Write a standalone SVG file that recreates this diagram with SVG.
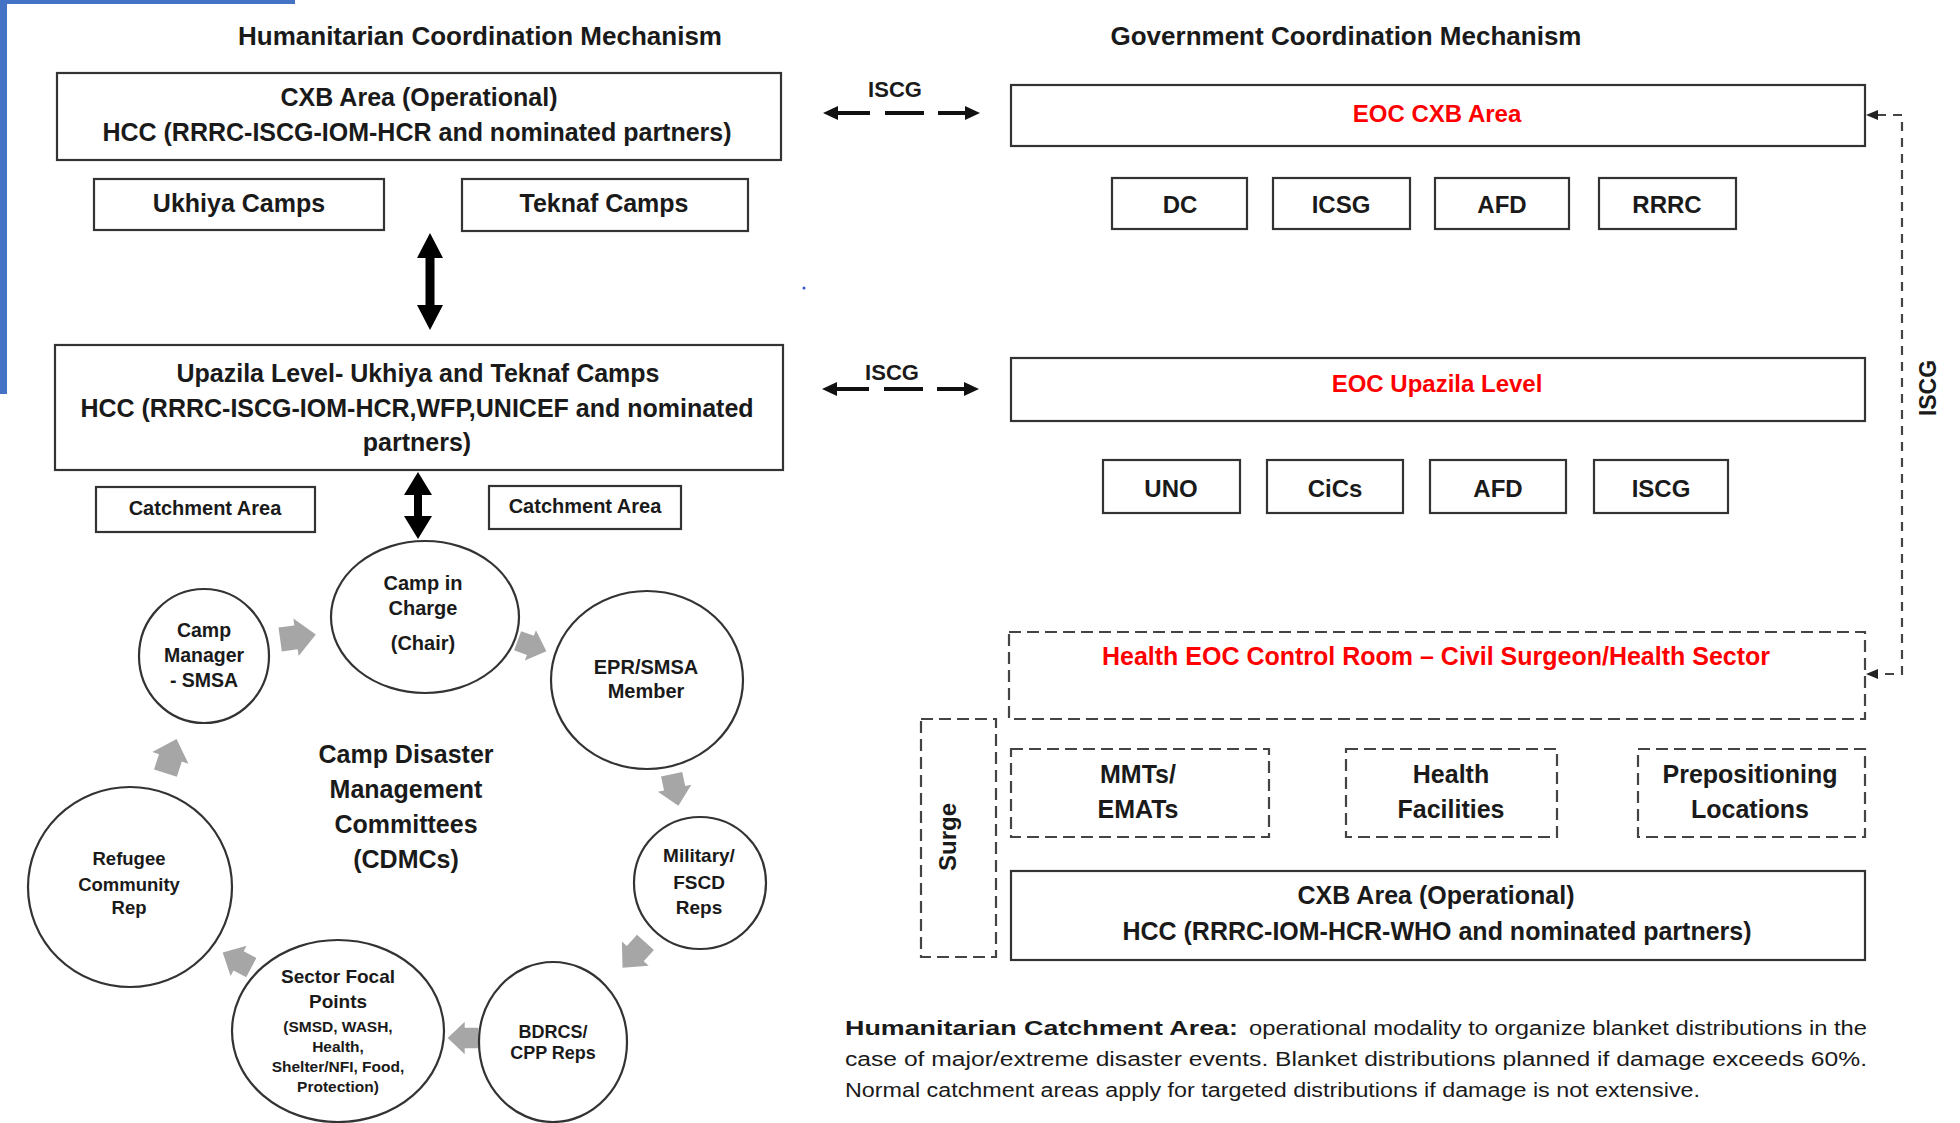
<svg xmlns="http://www.w3.org/2000/svg" xmlns:xlink="http://www.w3.org/1999/xlink" width="1960" height="1123" viewBox="0 0 1960 1123">
<style>
.t{font-family:"Liberation Sans",Arial,sans-serif;font-weight:bold;fill:#1a1a1a;text-anchor:middle}
.red{fill:#ff0000}
.box{fill:#fff;stroke:#333;stroke-width:2.2}
.dbox{fill:none;stroke:#444;stroke-width:2.2;stroke-dasharray:12 6}
.circ{fill:#fff;stroke:#333;stroke-width:2.2}
.ga{fill:#a6a6a6}
.fn{font-family:"Liberation Sans",Arial,sans-serif;fill:#1a1a1a;font-size:20px}
.dash4{stroke:#111;stroke-width:4;fill:none}
.conn{stroke:#444;stroke-width:2.2;fill:none;stroke-dasharray:9 7}
</style>
<defs>
<polygon id="garr" points="-18,-12 -2,-12 -2,-19 18,0 -2,19 -2,12 -18,12"/>
</defs>
<rect x="0" y="0" width="295" height="4" fill="#4472c4"/>
<rect x="0" y="0" width="7" height="394" fill="#4472c4"/>
<circle cx="804" cy="288" r="1.5" fill="#3355cc"/>

<text class="t" x="480" y="45" font-size="26">Humanitarian Coordination Mechanism</text>
<text class="t" x="1346" y="45" font-size="26">Government Coordination Mechanism</text>

<g id="connectors">
<polygon points="430,233 443,258 434.5,258 434.5,305 443,305 430,330 417,305 425.5,305 425.5,258 417,258" fill="#000"/>
<polygon points="418,472 432,495 422,495 422,516 432,516 418,539 404,516 414,516 414,495 404,495" fill="#000"/>
<line class="dash4" x1="837" y1="113" x2="967" y2="113" stroke-dasharray="33 15 39 14 29"/>
<polygon points="823,113 838,106 838,120" fill="#111"/>
<polygon points="980,113 965,106 965,120" fill="#111"/>
<text class="t" x="895" y="97" font-size="22">ISCG</text>
<line class="dash4" x1="836" y1="389" x2="966" y2="389" stroke-dasharray="33 15 39 14 29"/>
<polygon points="822,389 837,382 837,396" fill="#111"/>
<polygon points="979,389 964,382 964,396" fill="#111"/>
<text class="t" x="892" y="380" font-size="22">ISCG</text>
<path class="conn" d="M1877 115 H1902 V674 H1877"/>
<polygon points="1866,115 1878,110 1878,120" fill="#222"/>
<polygon points="1866,674 1878,669 1878,679" fill="#222"/>
<text class="t" font-size="23" transform="translate(1936,388) rotate(-90)">ISCG</text>
<use xlink:href="#garr" class="ga" transform="translate(298,637) rotate(-8)"/>
<use xlink:href="#garr" class="ga" transform="translate(532,646) rotate(20) scale(0.85)"/>
<use xlink:href="#garr" class="ga" transform="translate(675,790) rotate(78) scale(0.9)"/>
<use xlink:href="#garr" class="ga" transform="translate(634,955) rotate(132) scale(0.95)"/>
<use xlink:href="#garr" class="ga" transform="translate(463,1038) rotate(180) scale(0.85)"/>
<use xlink:href="#garr" class="ga" transform="translate(237,960) rotate(208) scale(0.9)"/>
<use xlink:href="#garr" class="ga" transform="translate(171,756) rotate(-72)"/>
</g>

<g id="cxb-hcc">
<rect class="box" x="57" y="73" width="724" height="87"/>
<text class="t" x="419" y="106" font-size="25">CXB Area (Operational)</text>
<text class="t" x="417" y="141" font-size="25">HCC (RRRC-ISCG-IOM-HCR and nominated partners)</text>
</g>
<g id="ukhiya">
<rect class="box" x="94" y="179" width="290" height="51"/>
<text class="t" x="239" y="212" font-size="25">Ukhiya Camps</text>
</g>
<g id="teknaf">
<rect class="box" x="462" y="179" width="286" height="52"/>
<text class="t" x="604" y="212" font-size="25">Teknaf Camps</text>
</g>
<g id="upazila-hcc">
<rect class="box" x="55" y="345" width="728" height="125"/>
<text class="t" x="418" y="382" font-size="25">Upazila Level- Ukhiya and Teknaf Camps</text>
<text class="t" x="417" y="417" font-size="25">HCC (RRRC-ISCG-IOM-HCR,WFP,UNICEF and nominated</text>
<text class="t" x="417" y="451" font-size="25">partners)</text>
</g>
<g id="catchment-left">
<rect class="box" x="96" y="487" width="219" height="45"/>
<text class="t" x="205" y="515" font-size="20">Catchment Area</text>
</g>
<g id="catchment-right">
<rect class="box" x="489" y="486" width="192" height="43"/>
<text class="t" x="585" y="513" font-size="20">Catchment Area</text>
</g>

<g id="camp-in-charge">
<ellipse class="circ" cx="425" cy="617" rx="94" ry="76"/>
<text class="t" x="423" y="590" font-size="20">Camp in</text>
<text class="t" x="423" y="615" font-size="20">Charge</text>
<text class="t" x="423" y="650" font-size="20">(Chair)</text>
</g>
<g id="camp-manager">
<ellipse class="circ" cx="204" cy="656" rx="65" ry="67"/>
<text class="t" x="204" y="637" font-size="19.5">Camp</text>
<text class="t" x="204" y="662" font-size="19.5">Manager</text>
<text class="t" x="204" y="687" font-size="19.5">- SMSA</text>
</g>
<g id="epr-smsa">
<ellipse class="circ" cx="647" cy="680" rx="96" ry="89"/>
<text class="t" x="646" y="674" font-size="20">EPR/SMSA</text>
<text class="t" x="646" y="698" font-size="20">Member</text>
</g>
<g id="military">
<ellipse class="circ" cx="700" cy="883" rx="66" ry="66"/>
<text class="t" x="699" y="862" font-size="19">Military/</text>
<text class="t" x="699" y="889" font-size="19">FSCD</text>
<text class="t" x="699" y="914" font-size="19">Reps</text>
</g>
<g id="bdrcs">
<ellipse class="circ" cx="553" cy="1042" rx="74" ry="80"/>
<text class="t" x="553" y="1038" font-size="18">BDRCS/</text>
<text class="t" x="553" y="1059" font-size="18">CPP Reps</text>
</g>
<g id="sector-focal">
<ellipse class="circ" cx="338" cy="1031" rx="106" ry="91"/>
<text class="t" x="338" y="983" font-size="19">Sector Focal</text>
<text class="t" x="338" y="1008" font-size="19">Points</text>
<text class="t" x="338" y="1032" font-size="15.5">(SMSD, WASH,</text>
<text class="t" x="338" y="1052" font-size="15.5">Health,</text>
<text class="t" x="338" y="1072" font-size="15.5">Shelter/NFI, Food,</text>
<text class="t" x="338" y="1092" font-size="15.5">Protection)</text>
</g>
<g id="refugee">
<ellipse class="circ" cx="130" cy="887" rx="102" ry="100"/>
<text class="t" x="129" y="865" font-size="18.5">Refugee</text>
<text class="t" x="129" y="891" font-size="18.5">Community</text>
<text class="t" x="129" y="914" font-size="18.5">Rep</text>
</g>
<g id="cdmc-label">
<text class="t" x="406" y="763" font-size="25">Camp Disaster</text>
<text class="t" x="406" y="798" font-size="25">Management</text>
<text class="t" x="406" y="833" font-size="25">Committees</text>
<text class="t" x="406" y="868" font-size="25">(CDMCs)</text>
</g>

<g id="eoc-cxb">
<rect class="box" x="1011" y="85" width="854" height="61"/>
<text class="t red" x="1437" y="122" font-size="24">EOC CXB Area</text>
</g>
<g id="dc"><rect class="box" x="1112" y="178" width="135" height="51"/><text class="t" x="1180" y="213" font-size="24">DC</text></g>
<g id="icsg"><rect class="box" x="1273" y="178" width="137" height="51"/><text class="t" x="1341" y="213" font-size="24">ICSG</text></g>
<g id="afd1"><rect class="box" x="1435" y="178" width="134" height="51"/><text class="t" x="1502" y="213" font-size="24">AFD</text></g>
<g id="rrrc"><rect class="box" x="1599" y="178" width="137" height="51"/><text class="t" x="1667" y="213" font-size="24">RRRC</text></g>

<g id="eoc-upazila">
<rect class="box" x="1011" y="358" width="854" height="63"/>
<text class="t red" x="1437" y="392" font-size="24">EOC Upazila Level</text>
</g>
<g id="uno"><rect class="box" x="1103" y="460" width="137" height="53"/><text class="t" x="1171" y="497" font-size="24">UNO</text></g>
<g id="cics"><rect class="box" x="1267" y="460" width="136" height="53"/><text class="t" x="1335" y="497" font-size="24">CiCs</text></g>
<g id="afd2"><rect class="box" x="1430" y="460" width="136" height="53"/><text class="t" x="1498" y="497" font-size="24">AFD</text></g>
<g id="iscg-box"><rect class="box" x="1594" y="460" width="134" height="53"/><text class="t" x="1661" y="497" font-size="24">ISCG</text></g>

<g id="health-eoc">
<rect class="dbox" x="1009" y="632" width="856" height="87"/>
<text class="t red" x="1436" y="665" font-size="25">Health EOC Control Room – Civil Surgeon/Health Sector</text>
</g>
<g id="surge">
<rect class="dbox" x="921" y="719" width="75" height="238"/>
<text class="t" font-size="24" transform="translate(956,837) rotate(-90)">Surge</text>
</g>
<g id="mmts">
<rect class="dbox" x="1011" y="749" width="258" height="88"/>
<text class="t" x="1138" y="783" font-size="25">MMTs/</text>
<text class="t" x="1138" y="818" font-size="25">EMATs</text>
</g>
<g id="health-facilities">
<rect class="dbox" x="1346" y="749" width="211" height="88"/>
<text class="t" x="1451" y="783" font-size="25">Health</text>
<text class="t" x="1451" y="818" font-size="25">Facilities</text>
</g>
<g id="prepositioning">
<rect class="dbox" x="1638" y="749" width="227" height="88"/>
<text class="t" x="1750" y="783" font-size="25">Prepositioning</text>
<text class="t" x="1750" y="818" font-size="25">Locations</text>
</g>
<g id="cxb-hcc-health">
<rect class="box" x="1011" y="871" width="854" height="89"/>
<text class="t" x="1436" y="904" font-size="25">CXB Area (Operational)</text>
<text class="t" x="1437" y="940" font-size="25">HCC (RRRC-IOM-HCR-WHO and nominated partners)</text>
</g>

<g id="footnote">
<text class="fn" x="845" y="1035" font-size="22" font-weight="bold" textLength="393" lengthAdjust="spacingAndGlyphs">Humanitarian Catchment Area:</text>
<text class="fn" x="1249" y="1035" textLength="618" lengthAdjust="spacingAndGlyphs">operational modality to organize blanket distributions in the</text>
<text class="fn" x="845" y="1066" textLength="1022" lengthAdjust="spacingAndGlyphs">case of major/extreme disaster events. Blanket distributions planned if damage exceeds 60%.</text>
<text class="fn" x="845" y="1097" textLength="855" lengthAdjust="spacingAndGlyphs">Normal catchment areas apply for targeted distributions if damage is not extensive.</text>
</g>
</svg>
